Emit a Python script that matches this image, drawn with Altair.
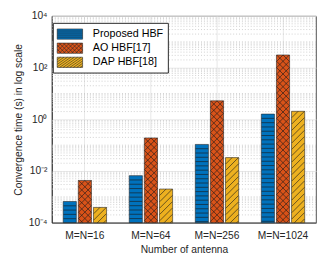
import altair as alt
import pandas as pd

# ---------------- data ----------------
antennas = ["M=N=16", "M=N=64", "M=N=256", "M=N=1024"]
series_names = ["Proposed HBF", "AO HBF[17]", "DAP HBF[18]"]
proposed = [6.6e-4, 6.6e-3, 0.107, 1.6]
ao = [4.3e-3, 0.19, 5.2, 310]
dap = [3.9e-4, 2.0e-3, 0.033, 2.05]
colors = ["#0072BD", "#D95319", "#EDB120"]
major_ticks = [1e-4, 1e-2, 1.0, 1e2, 1e4]
major_labels = ["10⁻⁴", "10⁻²", "10⁰", "10²", "10⁴"]
minor_ticks = [m * 10.0 ** k for k in range(-4, 4) for m in range(1, 10)
               if not (m == 1 and k % 2 == 0)]

rows = []
for name, vals in zip(series_names, [proposed, ao, dap]):
    for a, v in zip(antennas, vals):
        rows.append({"antenna": a, "series": name, "value": v})
df = pd.DataFrame(rows)
minor_df = pd.DataFrame({"tick": minor_ticks})

# ---------------- style ----------------
W, H = 271, 212
D = H / 8.0          # px per decade
HW = 13.0            # hatch segment width (px)
P = HW / 2.0         # diagonal hatch period (px)
PH = 4.4             # horizontal hatch period (px)
INK = "#262626"
HATCH = "#1a1a1a"
FONT = "Liberation Sans"


def fmt(v):
    return ("%.3f" % v).rstrip("0").rstrip(".")


def diag_lines(hx, h, spacing, slope_dirs, slope=1.0):
    out = []
    for s in slope_dirs:
        c = -hx - h / slope
        while c <= hx + h / slope:
            x0 = max(-hx, c - h / slope)
            x1 = min(hx, c + h / slope)
            if x1 - x0 > 0.02:
                ya = -s * slope * (x0 - c)
                yb = -s * slope * (x1 - c)
                out.append("M%s,%sL%s,%s" % (fmt(x0), fmt(ya), fmt(x1), fmt(yb)))
            c += spacing
    return "".join(out)


RX, RY = 1.86, 0.75
rect = "M-%s,-%sH%sV%sH-%sZ" % (fmt(RX), fmt(RY), fmt(RX), fmt(RY), fmt(RX))
leg_paths = [
    rect + "".join("M-%s,%sH%s" % (fmt(RX), fmt(yy), fmt(RX)) for yy in (-0.45, -0.15, 0.15, 0.45)),
    rect + diag_lines(RX, RY, 0.6, [1, -1]),
    rect + diag_lines(RX, RY, 0.5, [1], slope=0.7),
]

label_expr = " : ".join("datum.value == %r ? '%s'" % (v, s)
                        for v, s in zip(major_ticks, major_labels)) + " : ''"

x_enc = alt.X(
    "antenna:N", sort=antennas,
    scale=alt.Scale(paddingInner=0, paddingOuter=0),
    axis=alt.Axis(title="Number of antenna", labelAngle=0, ticks=False,
                  labelPadding=8, titlePadding=4, grid=True,
                  gridColor="#e2e2e2", gridWidth=0.8),
)
xo_enc = alt.XOffset("series:N", sort=series_names,
                     scale=alt.Scale(paddingInner=0.13, paddingOuter=0.75))
y_scale = alt.Scale(type="log", domain=[1e-4, 1e4], nice=False)
y_axis = alt.Axis(title="Convergence time (s) in log scale",
                  values=major_ticks, labelExpr=label_expr, ticks=False,
                  labelPadding=5, titlePadding=4,
                  gridColor="#e2e2e2", gridWidth=0.8)


def yenc(field):
    return alt.Y(field, scale=y_scale, axis=y_axis, stack=None)


color_scale = alt.Scale(domain=series_names, range=colors)
legend = alt.Legend(
    title=None, orient="none", legendX=1, legendY=7,
    fillColor="white", strokeColor=INK, padding=4, rowPadding=0.5,
    labelFontSize=11, labelColor="#000000", labelFont=FONT,
    symbolSize=196, symbolStrokeColor=INK, symbolStrokeWidth=0.6,
    symbolOpacity=1, symbolOffset=6, labelOffset=16,
)

leg_layer = (
    alt.Chart(df)
    .transform_filter("false")
    .mark_point(filled=True, strokeWidth=0.6, opacity=1)
    .encode(
        x=x_enc, xOffset=xo_enc, y=yenc("value:Q"),
        color=alt.Color("series:N", scale=color_scale, legend=legend),
        stroke=alt.Stroke("series:N", scale=alt.Scale(domain=series_names, range=[INK] * 3),
                          legend=legend),
        shape=alt.Shape("series:N", scale=alt.Scale(domain=series_names, range=leg_paths),
                        legend=legend),
    )
)

minor_grid = alt.Chart(minor_df).mark_rule(
    color="#c4c4c4", strokeWidth=0.8, strokeDash=[1, 2]
).encode(y=yenc("tick:Q"))

bars = alt.Chart(df).mark_bar(stroke=INK, strokeWidth=0.6).encode(
    x=x_enc,
    xOffset=xo_enc,
    y=yenc("value:Q"),
    color=alt.Color("series:N", scale=color_scale, legend=legend),
)


def hatch(series, shape, first_off, step, n=80):
    return (
        alt.Chart(df)
        .transform_filter(alt.datum.series == series)
        .transform_calculate(k="sequence(0, %d)" % n)
        .transform_flatten(["k"])
        .transform_calculate(
            hy="pow(10, log(datum.value)/LN10 - (%f + datum.k*%f)/%f)" % (first_off, step, D))
        .transform_filter("log(datum.hy)/LN10 + %f > -4" % (HW / 2 / D))
        .mark_point(shape=shape, size=HW * HW, stroke=HATCH, strokeWidth=0.7,
                    filled=False, opacity=0.9, clip=True)
        .encode(x=x_enc, xOffset=xo_enc, y=yenc("hy:Q"))
    )


def top_piece(series, shape):
    return (
        alt.Chart(df)
        .transform_filter(alt.datum.series == series)
        .mark_point(shape=shape, size=HW * HW, stroke=HATCH, strokeWidth=0.7,
                    filled=False, opacity=0.9, clip=True)
        .encode(x=x_enc, xOffset=xo_enc, y=yenc("value:Q"))
    )


h_blue = hatch(series_names[0], "M-1,0L1,0", PH, PH)
h_orange = hatch(series_names[1], "M-1,1L1,-1M-1,-1L1,1", P, P)
t_orange = top_piece(series_names[1], "M-1,1L0,0L1,1")
h_yellow = hatch(series_names[2], "M-1,1L1,-1", P, P)
t_yellow = top_piece(series_names[2], "M-1,1L0,0")

chart = (
    alt.layer(leg_layer, minor_grid, bars, h_blue, h_orange, t_orange, h_yellow, t_yellow)
    .properties(width=W, height=H, padding={"left": 5, "top": 0, "right": 0, "bottom": 0})
    .configure(font=FONT)
    .configure_view(stroke=INK, strokeWidth=0.8)
    .configure_axis(domainColor=INK, domainWidth=0.8, labelFontSize=10.5,
                    titleFontSize=10.5, titleFontWeight="normal", labelColor=INK,
                    titleColor=INK, labelFont=FONT, titleFont=FONT)
)

chart.save("out.html", embed_options={"renderer": "svg", "actions": False})
